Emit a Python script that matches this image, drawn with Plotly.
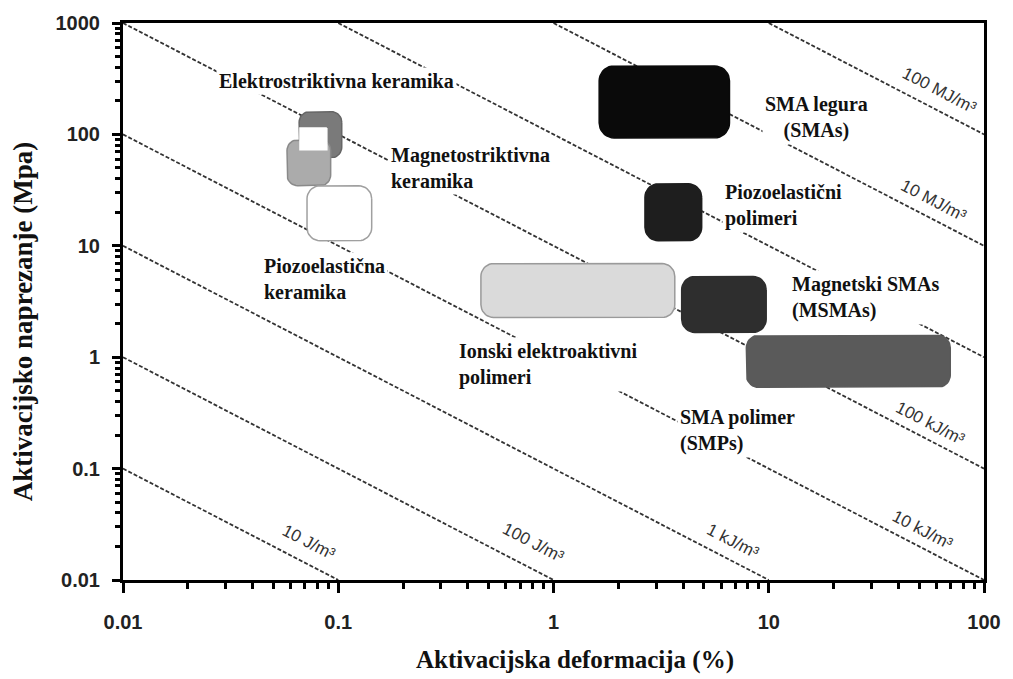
import numpy as np
import plotly.graph_objects as go

# ---------------- data ----------------
# constant energy-density lines (J/m^3); stress[MPa]*strain[%] = W/1e4
energy_values = [10, 100, 1e3, 1e4, 1e5, 1e6, 1e7, 1e8]
energy_labels = ["10 J/m³", "100 J/m³", "1 kJ/m³", "10 kJ/m³", "100 kJ/m³", None, "10 MJ/m³", "100 MJ/m³"]
# label anchor (strain %, stress MPa) near each line
energy_label_x = [0.0731, 0.80, 6.85, 52.3, 56.4, None, 58.1, 62.0]
energy_label_y = [0.0215, 0.0215, 0.0223, 0.0281, 0.255, None, 25.4, 246.0]

# material regions: strain range (%) and stress range (MPa)
materials = ["Elektrostriktivna keramika", "Magnetostriktivna keramika", "mask",
             "Piozoelastična keramika", "SMA legura", "Piozoelastični polimeri",
             "Ionski elektroaktivni polimeri", "Magnetski SMAs", "SMA polimer"]
strain_min = [0.0658, 0.0578, 0.0664, 0.0716, 1.63, 2.66, 0.46, 3.94, 7.87]
strain_max = [0.1038, 0.0922, 0.0885, 0.143, 6.57, 4.88, 3.66, 9.73, 69.7]
stress_min = [61.7, 34.6, 72.8, 11.1, 93.0, 11.1, 2.27, 1.67, 0.536]
stress_max = [160.0, 89.5, 114.6, 34.6, 412.0, 36.0, 6.93, 5.3, 1.57]
fill_colors = ["#7a7a7a", "#ababab", "#ffffff", "#ffffff", "#0a0a0a", "#1e1e1e", "#dadada", "#2e2e2e", "#5a5a5a"]
edge_colors = ["#666666", "#8a8a8a", "#ffffff", "#a0a0a0", "#0a0a0a", "#1e1e1e", "#9a9a9a", "#2e2e2e", "#5a5a5a"]

# text labels (strain %, stress MPa)
label_texts = ["Elektrostriktivna keramika", "Magnetostriktivna<br>keramika", "Piozoelastična<br>keramika",
               "SMA legura<br>(SMAs)", "Piozoelastični<br>polimeri", "Magnetski SMAs<br>(MSMAs)",
               "Ionski elektroaktivni<br>polimeri", "SMA polimer<br>(SMPs)"]
label_x = [0.0984, 0.171, 0.0439, 16.6, 6.04, 12.4, 0.352, 3.74]
label_y = [302.0, 50.1, 5.08, 141.0, 22.9, 3.44, 0.861, 0.221]
label_anchor = ["center", "left", "left", "center", "left", "left", "left", "left"]

x_ticks = [0.01, 0.1, 1, 10, 100]
x_tick_text = ["0.01", "0.1", "1", "10", "100"]
y_ticks = [0.01, 0.1, 1, 10, 100, 1000]
y_tick_text = ["0.01", "0.1", "1", "10", "100", "1000"]

# ---------------- layout geometry ----------------
W, H = 1013, 679
ML, MR, MT, MB = 123, 24, 22, 99
XR = (-2, 2)
YR = (-2, 3)
px_per_dec_x = (W - ML - MR) / (XR[1] - XR[0])
px_per_dec_y = (H - MT - MB) / (YR[1] - YR[0])

fig = go.Figure()

# energy lines
for ev in energy_values:
    p = ev / 1e4
    x0 = max(10 ** XR[0], p / 10 ** YR[1])
    x1 = min(10 ** XR[1], p / 10 ** YR[0])
    xs = np.array([x0, x1])
    fig.add_trace(go.Scatter(x=xs, y=p / xs, mode="lines",
                             line=dict(color="#333333", width=1.8, dash="4px,2px"),
                             hoverinfo="skip", showlegend=False))

# rounded boxes
def rounded(lx0, lx1, ly0, ly1, r_px):
    rx = r_px / px_per_dec_x
    ry = r_px / px_per_dec_y
    pts = []
    corners = [(lx1 - rx, ly1 - ry, 0, 90), (lx0 + rx, ly1 - ry, 90, 180),
               (lx0 + rx, ly0 + ry, 180, 270), (lx1 - rx, ly0 + ry, 270, 360)]
    for cx, cy, a0, a1 in corners:
        t = np.radians(np.linspace(a0, a1, 10))
        pts += [(cx + rx * np.cos(a), cy + ry * np.sin(a)) for a in t]
    pts.append(pts[0])
    xs = 10 ** np.array([q[0] for q in pts])
    ys = 10 ** np.array([q[1] for q in pts])
    return xs, ys

for i, name in enumerate(materials):
    lx0, lx1 = np.log10(strain_min[i]), np.log10(strain_max[i])
    ly0, ly1 = np.log10(stress_min[i]), np.log10(stress_max[i])
    wpx = (lx1 - lx0) * px_per_dec_x
    hpx = (ly1 - ly0) * px_per_dec_y
    if name == "mask":
        r = 0.1
    else:
        r = min(15, 0.2 * min(wpx, hpx) + 2)
    xs, ys = rounded(lx0, lx1, ly0, ly1, r)
    fig.add_trace(go.Scatter(x=xs, y=ys, mode="lines", fill="toself",
                             fillcolor=fill_colors[i],
                             line=dict(color=edge_colors[i], width=1.5),
                             hoverinfo="skip", showlegend=False))

# material labels
for t, x, y, a in zip(label_texts, label_x, label_y, label_anchor):
    fig.add_annotation(x=np.log10(x), y=np.log10(y), xref="x", yref="y", text=t,
                       showarrow=False, xanchor=a, yanchor="middle", align=a,
                       bgcolor="white", borderpad=2,
                       font=dict(family="Liberation Serif", size=20, color="#111111", weight="bold"))

# energy labels
angle = np.degrees(np.arctan(px_per_dec_y / px_per_dec_x))
for t, x, y in zip(energy_labels, energy_label_x, energy_label_y):
    if t is None:
        continue
    fig.add_annotation(x=np.log10(x), y=np.log10(y), xref="x", yref="y", text=t,
                       showarrow=False, textangle=angle, xanchor="center", yanchor="middle",
                       font=dict(family="Liberation Sans", size=17, color="#333333"))

# axis titles
fig.add_annotation(x=0.525, y=-0.143, xref="paper", yref="paper",
                   text="<b>Aktivacijska deformacija (%)</b>", showarrow=False,
                   xanchor="center", yanchor="middle",
                   font=dict(family="Liberation Serif", size=25, color="#111111"))
fig.add_annotation(x=-0.1166, y=0.464, xref="paper", yref="paper",
                   text="<b>Aktivacijsko naprezanje (Mpa)</b>", showarrow=False, textangle=-90,
                   xanchor="center", yanchor="middle",
                   font=dict(family="Liberation Serif", size=27, color="#111111"))

minor_x = [m * 10 ** d for d in range(XR[0], XR[1]) for m in range(2, 10)]
minor_y = [m * 10 ** d for d in range(YR[0], YR[1]) for m in range(2, 10)]

tickfont = dict(family="Liberation Sans", size=20, color="#222222", weight="bold")
fig.update_layout(
    width=W, height=H,
    margin=dict(l=ML, r=MR, t=MT, b=MB),
    paper_bgcolor="white", plot_bgcolor="white",
    showlegend=False,
    xaxis=dict(type="log", range=list(XR), tickmode="array", tickvals=x_ticks, ticktext=x_tick_text,
               showgrid=False, zeroline=False, showline=True, linecolor="black", linewidth=3,
               mirror=True, ticks="outside", ticklen=10, tickwidth=2.5, tickcolor="black",
               ticklabelstandoff=12, tickfont=tickfont,
               minor=dict(tickmode="array", tickvals=minor_x, ticks="outside", ticklen=6,
                          tickwidth=2.5, tickcolor="black", showgrid=False)),
    yaxis=dict(type="log", range=list(YR), tickmode="array", tickvals=y_ticks, ticktext=y_tick_text,
               showgrid=False, zeroline=False, showline=True, linecolor="black", linewidth=3,
               mirror=True, ticks="outside", ticklen=8, tickwidth=2.5, tickcolor="black",
               ticklabelstandoff=8, tickfont=tickfont,
               minor=dict(tickmode="array", tickvals=minor_y, ticks="outside", ticklen=5,
                          tickwidth=2.5, tickcolor="black", showgrid=False)),
)

fig.write_html("out.html", config={"displayModeBar": False},
               post_script="document.body.style.margin='0';document.body.style.overflow='hidden';")
